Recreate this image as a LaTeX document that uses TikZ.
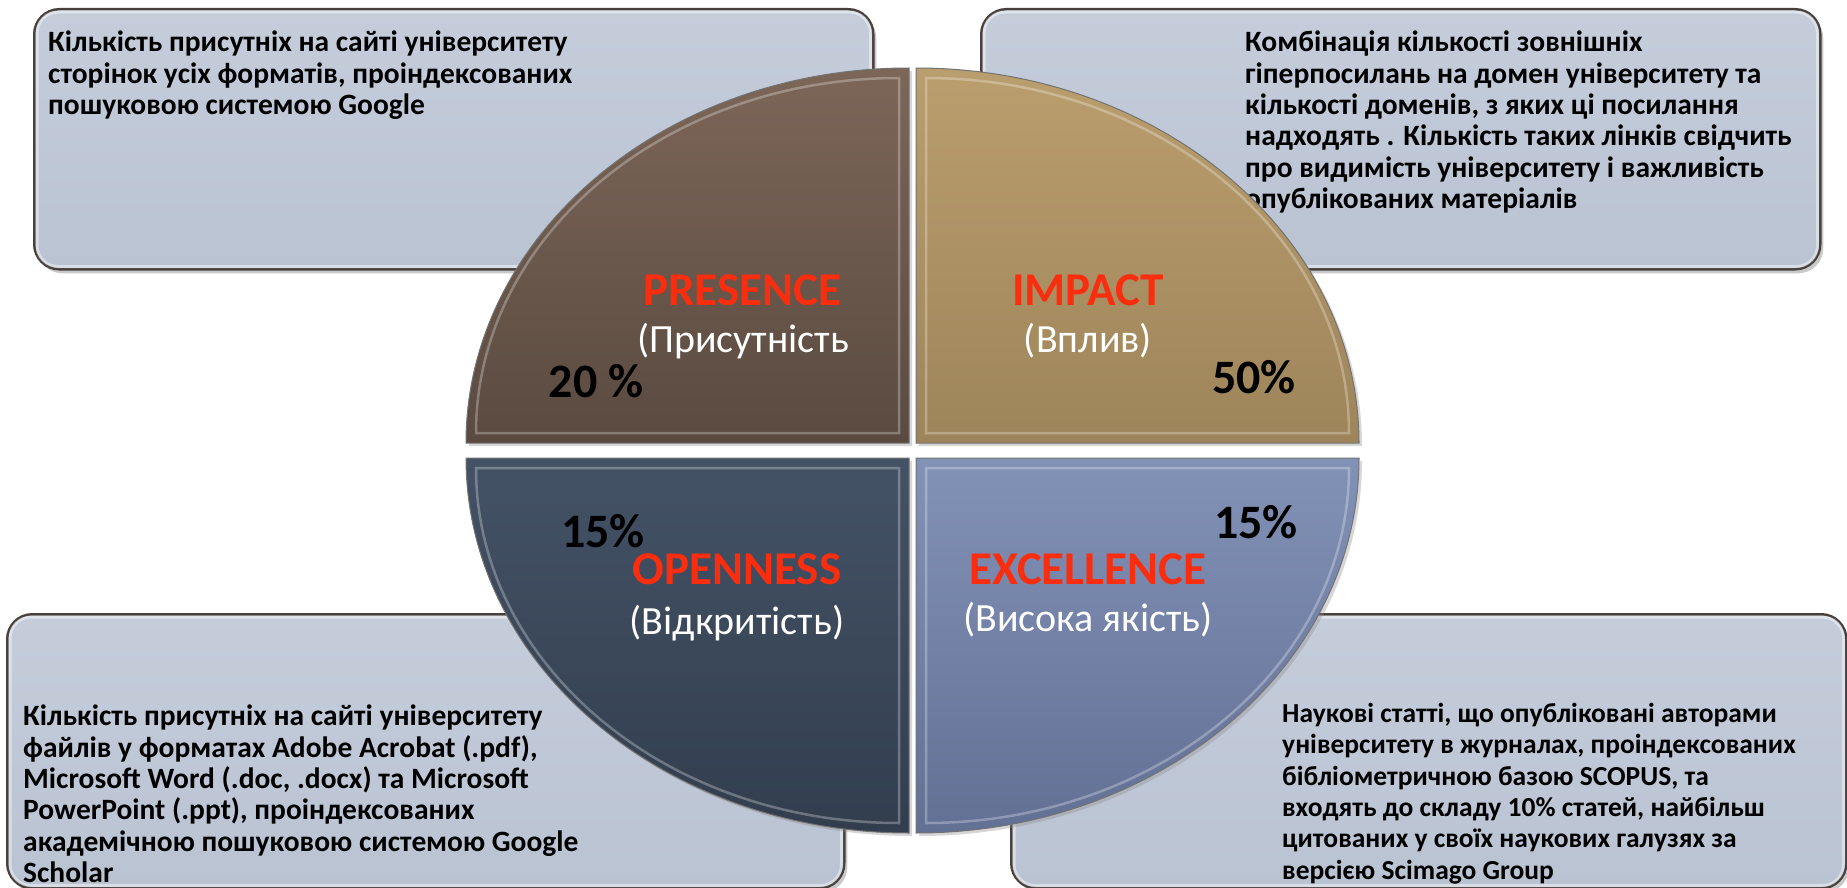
\documentclass[tikz,border=0pt]{standalone}
\usepackage{fontspec}
\setmainfont{Carlito}
\usetikzlibrary{shadows}
\definecolor{boxfillA}{RGB}{197,205,219}
\definecolor{boxfillB}{RGB}{186,195,210}
\definecolor{boxline}{RGB}{72,64,60}
\definecolor{labred}{RGB}{250,45,15}
\definecolor{presA}{RGB}{124,102,88}
\definecolor{presB}{RGB}{90,74,64}
\definecolor{impA}{RGB}{186,158,110}
\definecolor{impB}{RGB}{158,132,90}
\definecolor{opeA}{RGB}{68,82,102}
\definecolor{opeB}{RGB}{50,62,78}
\definecolor{excA}{RGB}{130,146,182}
\definecolor{excB}{RGB}{98,112,148}
\begin{document}
\begin{tikzpicture}[x=1pt,y=-1pt,
  infobox/.style={draw=boxline, line width=2.5pt, rounded corners=25pt,
    top color=boxfillA, bottom color=boxfillB, anchor=north west,
    drop shadow={shadow xshift=3pt, shadow yshift=-4pt, opacity=0.35, fill=black!60}},
  boxhl/.style={draw=white, opacity=0.45, line width=3pt, rounded corners=21pt},
  boxtext/.style={font=\bfseries\fontsize{29.5}{31.3}\selectfont, align=left, inner sep=0pt, anchor=north west, text=black},
  boxtextsm/.style={boxtext, font=\bfseries\fontsize{27.5}{31.3}\selectfont},
  quadline/.style={draw=black!55, line width=1pt},
  bevel/.style={draw=white, opacity=0.28, line width=2.5pt},
  qshadow/.style={fill=black!45, opacity=0.35},
  enlabel/.style={font=\bfseries\fontsize{47}{50}\selectfont, text=labred, inner sep=0pt},
  ualabel/.style={font=\fontsize{40}{44}\selectfont, text=white, inner sep=0pt},
  pct/.style={font=\bfseries\fontsize{48}{50}\selectfont, text=black, inner sep=0pt}]
\useasboundingbox (0,0) rectangle (1847,888);
\fill[white] (0,0) rectangle (1847,888);

% ---------- boxes ----------
\node[infobox, minimum width=839pt, minimum height=260pt] (tlbox) at (33,8) {};
\draw[boxhl] ([shift={(4,4)}]tlbox.north west) rectangle ([shift={(-4,-4)}]tlbox.south east);
\node[infobox, minimum width=839pt, minimum height=260pt] (trbox) at (980,8) {};
\draw[boxhl] ([shift={(4,4)}]trbox.north west) rectangle ([shift={(-4,-4)}]trbox.south east);
\node[infobox, minimum width=837pt, minimum height=274pt] (blbox) at (6,613) {};
\draw[boxhl] ([shift={(4,4)}]blbox.north west) rectangle ([shift={(-4,-4)}]blbox.south east);
\node[infobox, minimum width=835pt, minimum height=274pt] (brbox) at (1010,613) {};
\draw[boxhl] ([shift={(4,4)}]brbox.north west) rectangle ([shift={(-4,-4)}]brbox.south east);

\node[boxtext] (tltext) at (48,31) {Кількість присутніх на сайті університету\\сторінок усіх форматів, проіндексованих\\пошуковою системою Google};
\node[boxtext] (trtext) at (1245,31) {Комбінація кількості зовнішніх\\гіперпосилань на домен університету та\\кількості доменів, з яких ці посилання\\надходять . Кількість таких лінків свідчить\\про видимість університету і важливість\\опублікованих матеріалів};
\node[boxtext] (bltext) at (23,705) {Кількість присутніх на сайті університету\\файлів у форматах Adobe Acrobat (.pdf),\\Microsoft Word (.doc, .docx) та Microsoft\\PowerPoint (.ppt), проіндексованих\\академічною пошуковою системою Google\\Scholar};
\node[boxtextsm] (brtext) at (1282,703) {Наукові статті, що опубліковані авторами\\університету в журналах, проіндексованих\\бібліометричною базою SCOPUS, та\\входять до складу 10\% статей, найбільш\\цитованих у своїх наукових галузях за\\версією Scimago Group};

% ---------- pie shadows ----------
\fill[qshadow] (912,446) -- ++(-443,0) arc[start angle=180,end angle=270,x radius=443,y radius=375] -- cycle;
\fill[qshadow] (919,446) -- ++(0,-375) arc[start angle=270,end angle=360,x radius=443,y radius=375] -- cycle;
\fill[qshadow] (912,461) -- ++(0,375) arc[start angle=90,end angle=180,x radius=443,y radius=375] -- cycle;
\fill[qshadow] (919,461) -- ++(443,0) arc[start angle=0,end angle=90,x radius=443,y radius=375] -- cycle;

% ---------- quadrants ----------
\path[quadline, top color=presA, bottom color=presB] (909,443) -- ++(-443,0) arc[start angle=180,end angle=270,x radius=443,y radius=375] -- cycle;
\draw[bevel] (899,433) -- ++(-423,0) arc[start angle=180,end angle=270,x radius=423,y radius=355] -- cycle;
\path[quadline, top color=impA, bottom color=impB] (916,443) -- ++(0,-375) arc[start angle=270,end angle=360,x radius=443,y radius=375] -- cycle;
\draw[bevel] (926,433) -- ++(0,-355) arc[start angle=270,end angle=360,x radius=423,y radius=355] -- cycle;
\path[quadline, top color=opeA, bottom color=opeB] (909,458) -- ++(0,375) arc[start angle=90,end angle=180,x radius=443,y radius=375] -- cycle;
\draw[bevel] (899,468) -- ++(0,355) arc[start angle=90,end angle=180,x radius=423,y radius=355] -- cycle;
\path[quadline, top color=excA, bottom color=excB] (916,458) -- ++(443,0) arc[start angle=0,end angle=90,x radius=443,y radius=375] -- cycle;
\draw[bevel] (926,468) -- ++(423,0) arc[start angle=0,end angle=90,x radius=423,y radius=355] -- cycle;

% ---------- labels ----------
\node[enlabel] (presence) at (742,290) {PRESENCE};
\node[ualabel] (presenceua) at (743,341) {(Присутність};
\node[pct] (p20) at (596,381) {20 \%};
\node[enlabel] (impact) at (1088,290) {IMPACT};
\node[ualabel] (impactua) at (1088,341) {(Вплив)};
\node[pct] (p50) at (1254,377) {50\%};
\node[pct] (p15a) at (603,531) {15\%};
\node[enlabel] (openness) at (737,569) {OPENNESS};
\node[ualabel] (opennessua) at (737,623) {(Відкритість)};
\node[pct] (p15b) at (1256,522) {15\%};
\node[enlabel] (excellence) at (1088,569) {EXCELLENCE};
\node[ualabel] (excellenceua) at (1088,620) {(Висока якість)};
\end{tikzpicture}
\end{document}
